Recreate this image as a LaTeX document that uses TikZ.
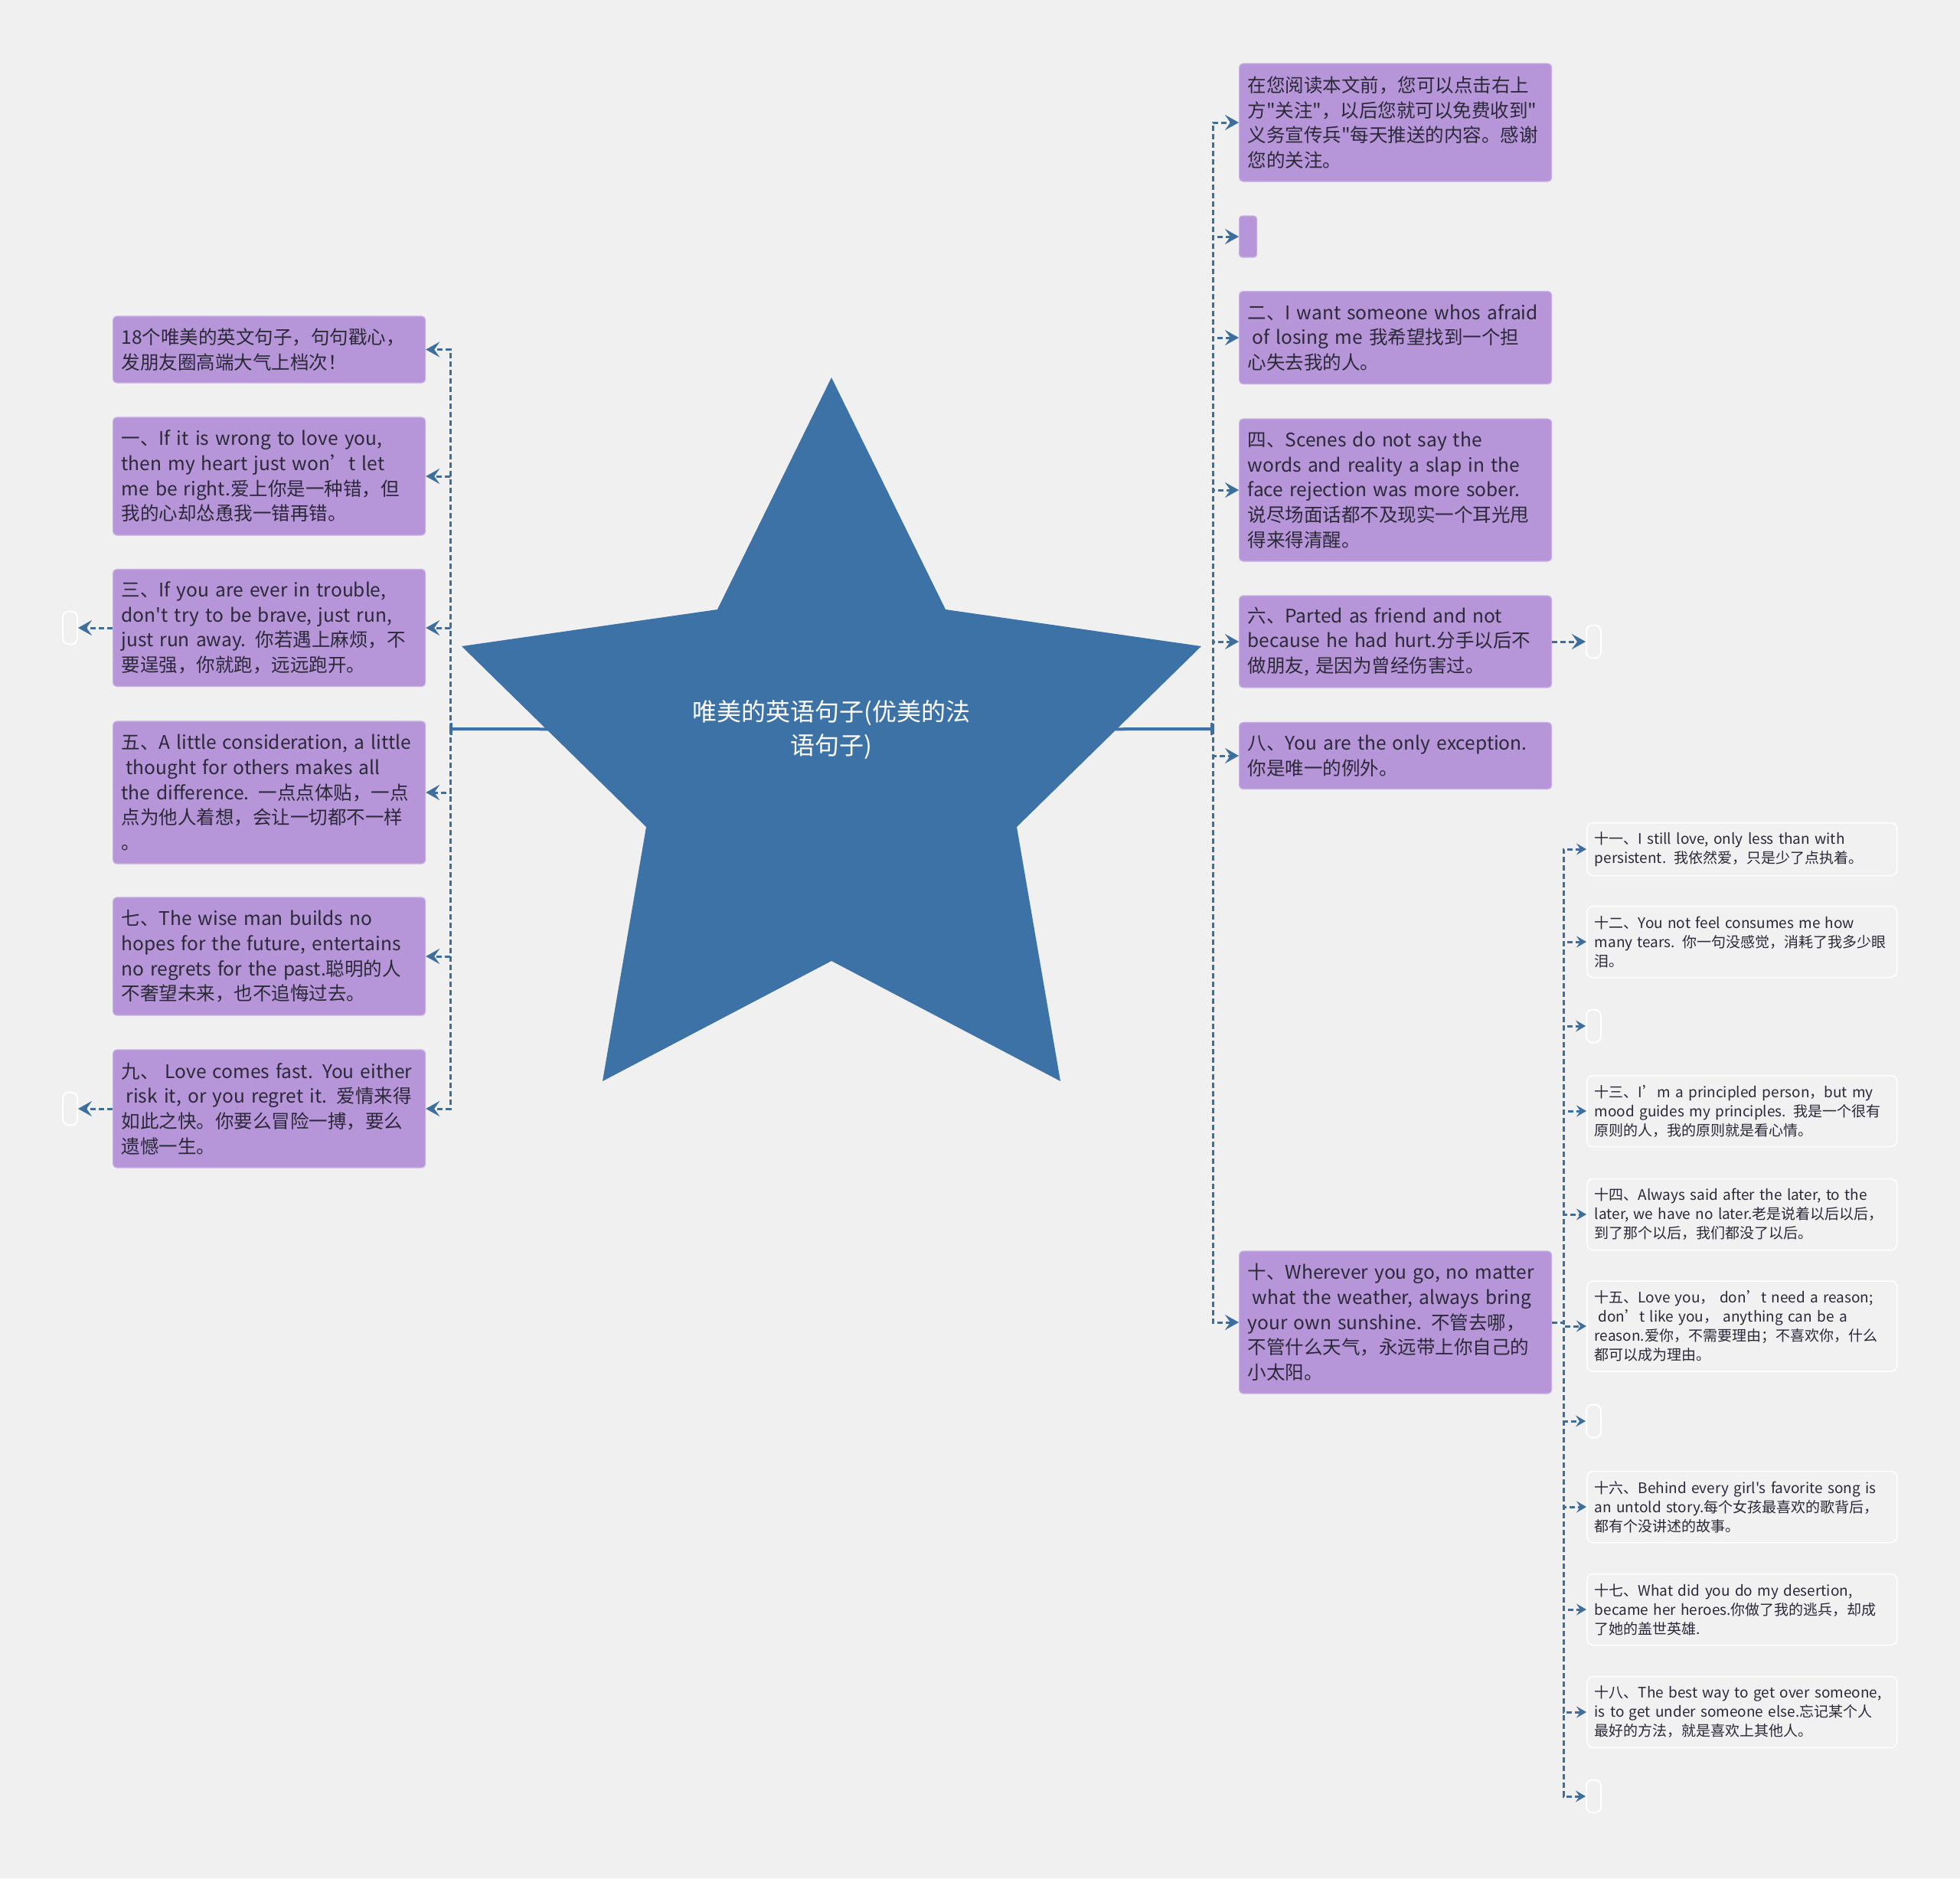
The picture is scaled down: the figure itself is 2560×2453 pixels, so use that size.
\documentclass[tikz,border=0pt]{standalone}
\usepackage{fontspec}
\setmainfont{Noto Sans CJK SC}[Ligatures=TeXOff]
\usetikzlibrary{arrows.meta,backgrounds}
\definecolor{bg}{HTML}{F0F0F0}
\definecolor{pur}{HTML}{B696D9}
\definecolor{purline}{HTML}{C6AEE4}
\definecolor{blu}{HTML}{3C72A6}
\definecolor{lnk}{HTML}{3D6E9C}
\definecolor{txt}{HTML}{2B2838}
\definecolor{kidfill}{HTML}{F1F1F1}
\begin{document}
\begin{tikzpicture}[x=1pt,y=-1pt,
  mainbox/.style={draw=purline, line width=1.2pt, fill=pur, rounded corners=5pt,
    text width=386pt, inner xsep=11pt, inner ysep=0pt, align=left,
    font=\fontsize{24.5}{32.7}\selectfont, text=txt, anchor=west},
  kidbox/.style={draw=white, line width=1.5pt, fill=kidfill, rounded corners=8pt,
    text width=385pt, inner xsep=10pt, inner ysep=0pt, align=left,
    font=\fontsize{19}{25}\selectfont, text=txt, anchor=west},
  emptybox/.style={draw=white, line width=2pt, rounded corners=8pt,
    minimum width=19pt, minimum height=43pt, inner sep=0pt},
  link/.style={draw=lnk, line width=3pt, dash pattern=on 7pt off 4pt},
  arr/.style={-{Stealth[length=18pt,width=20pt,inset=7pt]}},
  karr/.style={-{Stealth[length=13pt,width=15pt,inset=5pt]}},
  trunk/.style={draw=blu, line width=4pt}
]
\useasboundingbox (0,0) rectangle (2560,2453);

% root text
\node[font=\fontsize{32}{44}\selectfont, text=white, align=center] (root) at (1086,953)
  {唯美的英语句子(优美的法\\语句子)};

\begin{pgfonlayer}{background}
\fill[bg] (0,0) rectangle (2560,2453);
\coordinate (hubL) at (588,952);
\coordinate (hubR) at (1584,952);
\draw[trunk, -{Bar[width=16pt,line width=3pt]}] (root) -- (hubL);
\draw[trunk, -{Bar[width=16pt,line width=3pt]}] (root) -- (hubR);
\fill[blu] (1086,493) -- (1235,796) -- (1569,844) -- (1328,1080) -- (1385,1412)
  -- (1086,1255) -- (787,1412) -- (844,1080) -- (603,844) -- (937,796) -- cycle;
\end{pgfonlayer}

% left nodes
\node[mainbox, minimum height=87pt] (n18) at (147,456.5)
  {18个唯美的英文句子，句句戳心，\\发朋友圈高端大气上档次！};
\node[mainbox, minimum height=154pt] (n1) at (147,622)
  {一、If it is wrong to love you,\\then my heart just won’t let\\me be right.爱上你是一种错，但\\我的心却怂恿我一错再错。};
\node[mainbox, minimum height=153pt] (n3) at (147,820)
  {三、If you are ever in trouble,\\don't try to be brave, just run,\\just run away. 你若遇上麻烦，不\\要逞强，你就跑，远远跑开。};
\node[mainbox, minimum height=186pt] (n5) at (147,1035)
  {五、A little consideration, a little\\\hspace*{0.25em}thought for others makes all\\the difference. 一点点体贴，一点\\点为他人着想，会让一切都不一样\\。};
\node[mainbox, minimum height=154pt] (n7) at (147,1249)
  {七、The wise man builds no\\hopes for the future, entertains\\no regrets for the past.聪明的人\\不奢望未来，也不追悔过去。};
\node[mainbox, minimum height=154pt] (n9) at (147,1448)
  {九、 Love comes fast. You either\\\hspace*{0.25em}risk it, or you regret it. 爱情来得\\如此之快。你要么冒险一搏，要么\\遗憾一生。};

\node[emptybox] (e3) at (91.5,820) {};
\node[emptybox] (e9) at (91.5,1448) {};

% right nodes
\node[mainbox, minimum height=154pt] (r0) at (1618,160)
  {在您阅读本文前，您可以点击右上\\方"关注"，以后您就可以免费收到"\\义务宣传兵"每天推送的内容。感谢\\您的关注。};
\node[draw=purline, line width=1.2pt, fill=pur, rounded corners=4pt, minimum width=23pt,
  minimum height=54pt, inner sep=0pt, anchor=west] (rE) at (1618,309) {};
\node[mainbox, minimum height=121pt] (r2) at (1618,441)
  {二、I want someone whos afraid\\\hspace*{0.25em}of losing me 我希望找到一个担\\心失去我的人。};
\node[mainbox, minimum height=186pt] (r4) at (1618,640)
  {四、Scenes do not say the\\words and reality a slap in the\\face rejection was more sober.\\说尽场面话都不及现实一个耳光甩\\得来得清醒。};
\node[mainbox, minimum height=120pt] (r6) at (1618,838)
  {六、Parted as friend and not\\because he had hurt.分手以后不\\做朋友, 是因为曾经伤害过。};
\node[mainbox, minimum height=87pt] (r8) at (1618,987)
  {八、You are the only exception.\\你是唯一的例外。};
\node[mainbox, minimum height=186pt] (r10) at (1618,1727)
  {十、Wherever you go, no matter\\\hspace*{0.25em}what the weather, always bring\\your own sunshine. 不管去哪，\\不管什么天气，永远带上你自己的\\小太阳。};

\node[emptybox] (e6) at (2081.5,838) {};

% children of 十
\coordinate (hubT) at (2042,1727);
\node[kidbox, minimum height=69pt] (c11) at (2072,1109)
  {十一、I still love, only less than with\\persistent. 我依然爱，只是少了点执着。};
\node[kidbox, minimum height=93pt] (c12) at (2072,1230)
  {十二、You not feel consumes me how\\many tears. 你一句没感觉，消耗了我多少眼\\泪。};
\node[emptybox] (k1) at (2081.5,1340) {};
\node[kidbox, minimum height=93pt] (c13) at (2072,1451)
  {十三、I’m a principled person，but my\\mood guides my principles. 我是一个很有\\原则的人，我的原则就是看心情。};
\node[kidbox, minimum height=93pt] (c14) at (2072,1586)
  {十四、Always said after the later, to the\\later, we have no later.老是说着以后以后，\\到了那个以后，我们都没了以后。};
\node[kidbox, minimum height=118pt] (c15) at (2072,1732)
  {十五、Love you， don’t need a reason;\\\hspace*{0.25em}don’t like you， anything can be a\\reason.爱你，不需要理由；不喜欢你，什么\\都可以成为理由。};
\node[emptybox] (k2) at (2081.5,1856) {};
\node[kidbox, minimum height=93pt] (c16) at (2072,1968)
  {十六、Behind every girl's favorite song is\\an untold story.每个女孩最喜欢的歌背后，\\都有个没讲述的故事。};
\node[kidbox, minimum height=93pt] (c17) at (2072,2102)
  {十七、What did you do my desertion,\\became her heroes.你做了我的逃兵，却成\\了她的盖世英雄.};
\node[kidbox, minimum height=93pt] (c18) at (2072,2236)
  {十八、The best way to get over someone,\\is to get under someone else.忘记某个人\\最好的方法，就是喜欢上其他人。};
\node[emptybox] (k3) at (2081.5,2346) {};

% connectors left
\foreach \t in {n18,n1,n3,n5,n7,n9}
  \draw[link, arr] (hubL) |- (\t.east);
\draw[link, arr] (n3.west) -- (e3.east);
\draw[link, arr] (n9.west) -- (e9.east);

% connectors right
\foreach \t in {r0,rE,r2,r4,r6,r8,r10}
  \draw[link, arr] (hubR) |- (\t.west);
\draw[link, arr] (r6.east) -- (e6.west);

% connectors children
\foreach \t in {c11,c12,k1,c13,c14,c15,k2,c16,c17,c18,k3}
  \draw[link, karr] (r10.east) -- (hubT) |- (\t.west);
\end{tikzpicture}
\end{document}
